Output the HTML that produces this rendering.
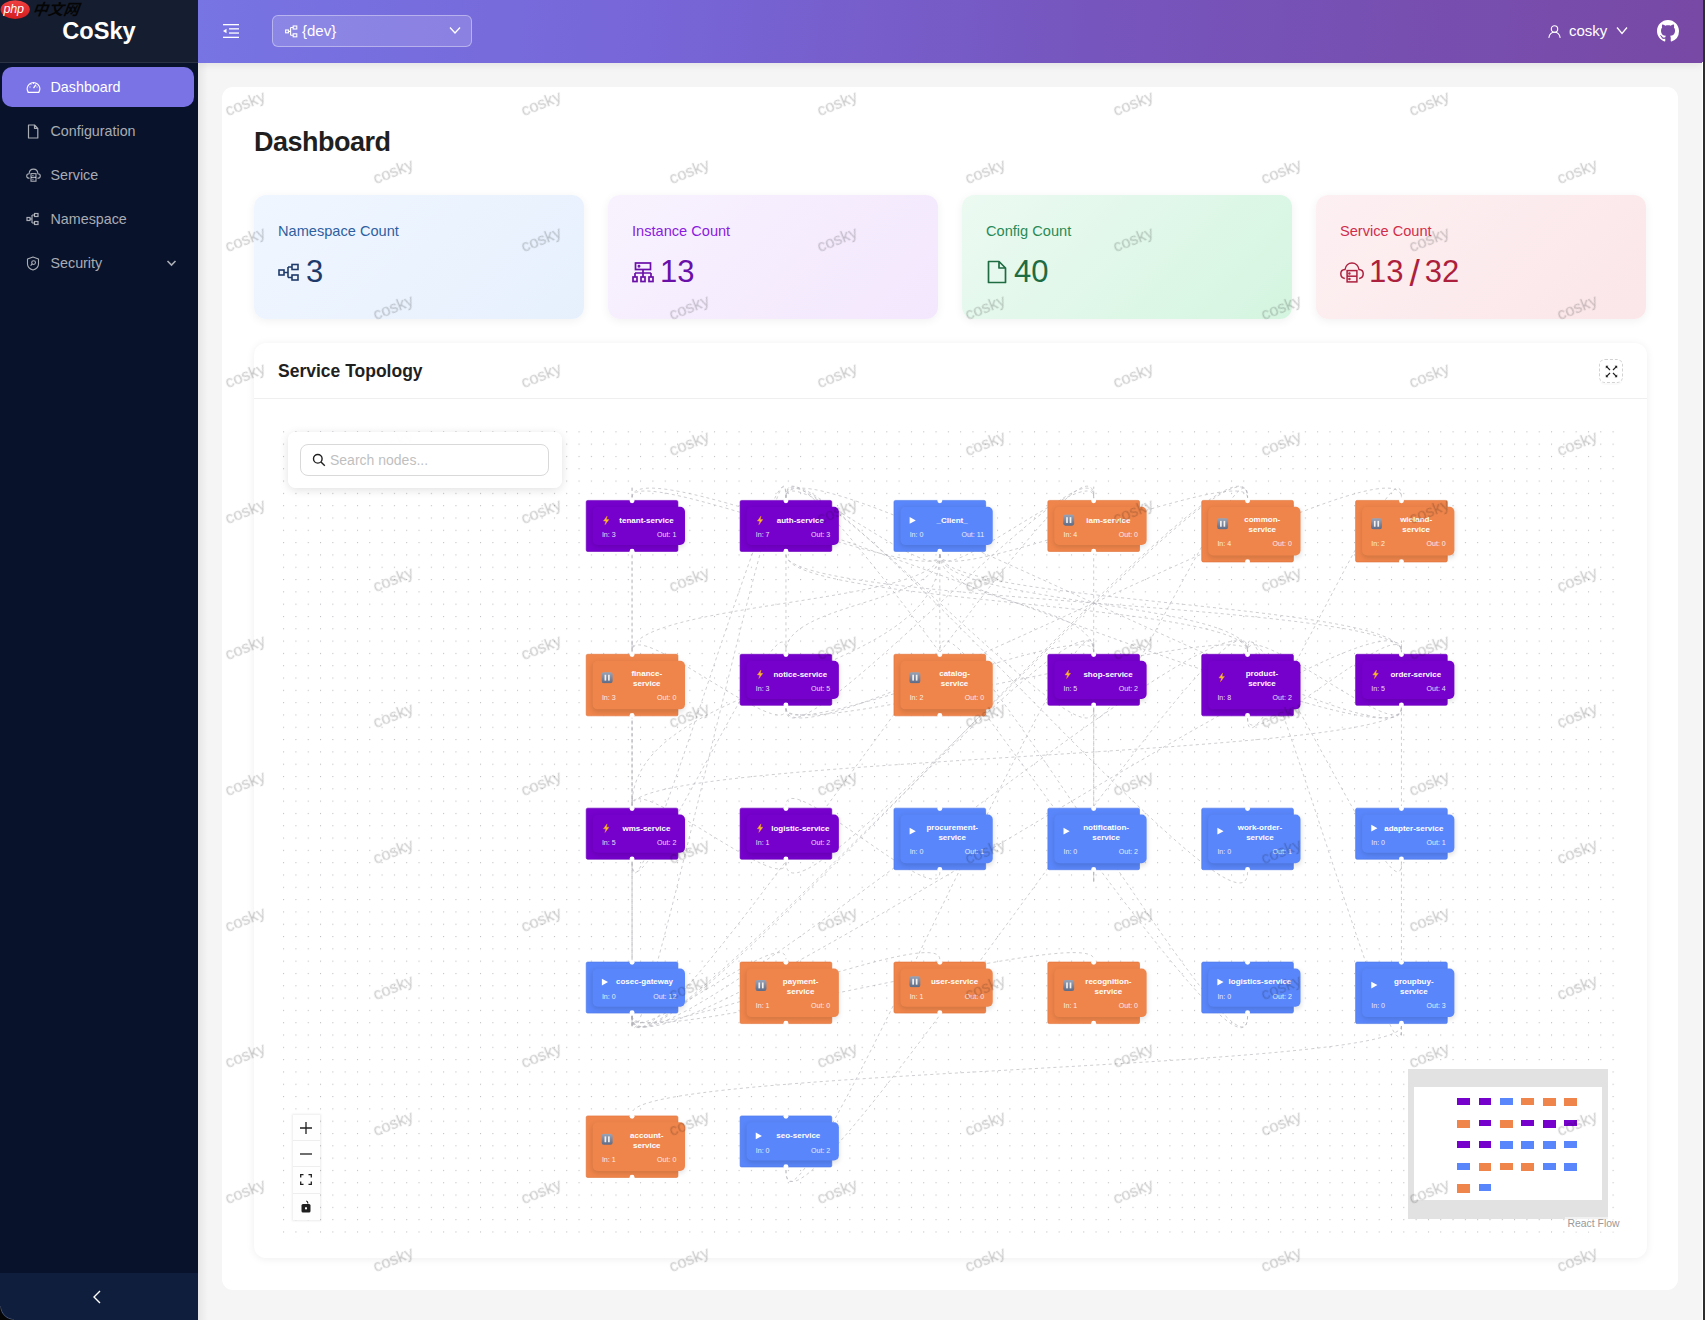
<!DOCTYPE html>
<html><head><meta charset="utf-8"><title>CoSky Dashboard</title>
<style>
*{box-sizing:border-box;margin:0;padding:0}
html,body{width:1705px;height:1320px;overflow:hidden;background:#f5f5f5;font-family:"Liberation Sans",Arial,sans-serif;color:#1f1f1f}
#sider{position:absolute;left:0;top:0;width:198px;height:1320px;background:#08122a;z-index:3}
#logo{position:absolute;left:0;top:0;width:198px;height:63px;background:#151e31;border-bottom:1px solid #2a3345}
#logo .t{position:absolute;left:0;width:198px;top:17.5px;text-align:center;color:#fff;font-weight:700;font-size:23.6px;line-height:26px}
#php{position:absolute;left:0px;top:0px;width:82px;height:20px}
.menu{position:absolute;left:2px;width:192px;height:40px;border-radius:10px;color:rgba(255,255,255,0.66);font-size:14.3px}
.menu.on{background:#7a73e6;color:#fff}
.menu .tx{position:absolute;left:48.5px;top:11px;line-height:18px}
.menu svg{position:absolute;left:24px;top:13px}
#collapse{position:absolute;left:0;top:1273px;width:198px;height:47px;background:#101e3e}
#header{position:absolute;left:198px;top:0;width:1505px;height:63px;background:linear-gradient(95deg,#7774e3 0%,#7766d8 30%,#7655bd 60%,#7849a5 100%);z-index:2;box-shadow:0 2px 8px rgba(0,0,0,0.08)}
#rstrip{position:absolute;left:1703px;top:0;width:2px;height:1320px;background:#2e2e2e;z-index:5}
#shadowL{position:absolute;left:198px;top:62px;width:10px;height:1258px;background:linear-gradient(90deg,rgba(0,0,0,0.06),rgba(0,0,0,0));z-index:1}
#main{position:absolute;left:222px;top:87px;width:1456px;height:1203px;background:#fff;border-radius:11px;overflow:hidden}
h1{position:absolute;left:32px;top:39px;font-size:27px;line-height:32px;font-weight:700;color:#1f1f1f;letter-spacing:-0.5px}
.card{position:absolute;top:108px;width:330px;height:124px;border-radius:12px;box-shadow:0 2px 10px rgba(0,0,0,0.06)}
.card .ti{position:absolute;left:24px;top:26px;font-size:14.6px;line-height:20px}
.card .val{position:absolute;left:24px;top:57px;font-size:31px;line-height:40px;height:40px;display:flex;align-items:center}
.card .val svg{margin-right:6px;flex:none}
#topo{position:absolute;left:32px;top:256px;width:1393px;height:915px;border-radius:12px;background:#fff;box-shadow:0 1px 8px rgba(0,0,0,0.07)}
#topo .hd{position:absolute;left:0;top:0;width:100%;height:56px;border-bottom:1px solid #efefef}
#topo .hd .t{position:absolute;left:24px;top:17px;font-size:17.5px;font-weight:700;line-height:22px}
#fsbtn{position:absolute;left:1345px;top:16px;width:24px;height:24px;border:1px dashed #d2d2d2;border-radius:6px;box-shadow:0 2px 0 rgba(0,0,0,0.02)}
#pane{position:absolute;left:24px;top:80px;width:1345px;height:810px;overflow:hidden}
#dots{position:absolute;left:0;top:0}
#vp{position:absolute;left:0;top:0;transform-origin:0 0;transform:translate(307.9px,77.1px) scale(0.6155)}
.nd{position:absolute;width:150px;padding:10px;border:1px solid;border-radius:3px;color:#fff;text-align:center}
.nd .in{position:relative;width:150px;border-radius:8px;padding:13.7px 12px 10.8px 12px;box-shadow:0 3px 8px rgba(0,0,0,0.13)}
.nd.two .in{padding:12.5px 12px 12px 12px}
.nd .r1{display:flex;align-items:center;height:16px}
.nd.two .r1{height:32px}
.nd .ic{flex:none;display:block;position:relative}
.nd.P .ic{left:2.4px}
.nd.O .ic{left:2px}
.nd.two .ic{top:-1.5px}
.nd .nm{flex:1;min-width:0;font-size:13px;font-weight:700;line-height:16px;white-space:nowrap;text-align:center}
.nd.P .nm{padding-left:8.8px}
.nd.O .nm{padding-left:6.8px}
.nd.B .nm{padding-left:2.2px}
.nd .r2{display:flex;justify-content:space-between;font-size:11.5px;line-height:14px;margin-top:8px;opacity:0.85;padding:0 2px 0 3px}
.nd .hdl{position:absolute;left:69.5px;width:8px;height:8px;border-radius:50%;background:#fff;z-index:2}
#edges{position:absolute;left:0;top:0;overflow:visible}
#search{position:absolute;z-index:12;left:10px;top:9px;width:274px;height:56px;background:rgba(255,255,255,0.96);border-radius:8px;box-shadow:0 2px 10px rgba(0,0,0,0.12)}
#search .inp{position:absolute;left:12px;top:12px;width:249px;height:32px;border:1px solid #d9d9d9;border-radius:8px;background:#fff}
#search .ph{position:absolute;left:29px;top:6px;font-size:14px;line-height:18px;color:#bfbfbf}
#search svg{position:absolute;left:11px;top:8px}
#ctrl{position:absolute;left:15px;top:692px;width:26.5px;background:#fefefe;box-shadow:0 0 2px 1px rgba(0,0,0,0.08)}
#ctrl div{height:26.2px;border-bottom:1px solid #eee;display:flex;align-items:center;justify-content:center}
#minimap{position:absolute;left:1130px;top:646px;width:200px;height:150px;background:#e2e2e2}
#mmv{position:absolute;left:6px;top:18.4px;width:188px;height:112.6px;background:#fff}
#attr{position:absolute;left:1286.5px;top:794px;height:15px;padding:0 3px;background:rgba(255,255,255,0.5);font-size:10.4px;line-height:14px;color:#999}
.wm{position:absolute;width:80px;height:20px;line-height:20px;text-align:center;font-size:16.5px;color:rgba(0,0,0,0.09);text-shadow:0 0 1px rgba(0,0,0,0.14);transform:rotate(-22deg);white-space:nowrap;pointer-events:none;will-change:transform}
#wml{position:absolute;left:0;top:0;width:1456px;height:1202px;z-index:10;pointer-events:none}
</style></head>
<body>
<div id="sider">
  <div id="logo"><div class="t">CoSky</div>
    <svg id="php" viewBox="0 0 82 20"><defs><linearGradient id="phpg" x1="0" y1="0" x2="0" y2="1"><stop offset="0" stop-color="#f0403f"/><stop offset="1" stop-color="#d41d20"/></linearGradient></defs><ellipse cx="15.2" cy="9.6" rx="14.6" ry="9.3" fill="url(#phpg)"/><text x="3.6" y="13.2" font-family="Liberation Sans" font-style="italic" font-size="12.5" fill="#fff" letter-spacing="-0.3">php</text><text x="32.5" y="14.8" font-family="'Liberation Sans','Noto Sans CJK SC',sans-serif" font-style="italic" font-weight="700" font-size="15.5" fill="#050505" transform="skewX(-8)" transform-origin="40 10">中文网</text></svg>
  </div>
  <div class="menu on" style="top:67px">
    <svg width="15" height="14" viewBox="0 0 15 14" fill="none" stroke="#fff" stroke-width="1.3"><path d="M2.2 12.3 A6.3 6.3 0 1 1 12.8 12.3 Z" stroke-linejoin="round"/><path d="M7.5 8.2 L10 4.6"/><path d="M3.5 7 h1 M7.5 3 v1 M11.5 7 h-1 M4.7 4.2 l0.7 0.7" stroke-width="1"/></svg>
    <span class="tx">Dashboard</span></div>
  <div class="menu" style="top:111px">
    <svg width="14" height="15" viewBox="0 0 14 15" fill="none" stroke="currentColor" stroke-width="1.2"><path d="M2.5 1 H8.5 L11.8 4.3 V14 H2.5 Z M8.5 1 V4.3 H11.8" stroke-linejoin="round"/></svg>
    <span class="tx">Configuration</span></div>
  <div class="menu" style="top:155px">
    <svg width="15" height="14" viewBox="0 0 15 14" fill="none" stroke="currentColor" stroke-width="1.1"><path d="M3.6 10.2 C1.8 10.2 0.7 9.2 0.7 7.9 C0.7 6.6 1.8 5.7 3.1 5.7 C3.3 3.1 5.2 1.1 7.5 1.1 C9.8 1.1 11.7 3.1 11.9 5.7 C13.2 5.7 14.3 6.6 14.3 7.9 C14.3 9.2 13.2 10.2 11.4 10.2"/><rect x="5" y="5.6" width="5" height="7.6"/><path d="M5 9.4 H10 M6.3 7.5 h1.2 M6.3 11.3 h1.2"/></svg>
    <span class="tx">Service</span></div>
  <div class="menu" style="top:199px">
    <svg width="14" height="14" viewBox="0 0 14 14" fill="none" stroke="currentColor" stroke-width="1.2"><rect x="1" y="5.5" width="3" height="3"/><rect x="8.5" y="1.5" width="3.5" height="3"/><rect x="8.5" y="9.5" width="3.5" height="3"/><path d="M4 7 H6 M6 3 V11 M6 3 H8.5 M6 11 H8.5"/></svg>
    <span class="tx">Namespace</span></div>
  <div class="menu" style="top:243px">
    <svg width="14" height="15" viewBox="0 0 14 15" fill="none" stroke="currentColor" stroke-width="1.1"><path d="M7 1 L12.5 3 V8 C12.5 11 10 13 7 14 C4 13 1.5 11 1.5 8 V3 Z" stroke-linejoin="round"/><circle cx="7.6" cy="6.6" r="1.9"/><path d="M6.2 8 L4.6 9.6"/></svg>
    <span class="tx">Security</span>
    <svg style="left:164px;top:15px" width="11" height="10" viewBox="0 0 11 10" fill="none" stroke="currentColor" stroke-width="1.6"><path d="M1.5 3 L5.5 7 L9.5 3"/></svg></div>
  <div id="collapse"><svg style="position:absolute;left:92px;top:17px" width="10" height="14" viewBox="0 0 10 14" fill="none" stroke="#fff" stroke-width="1.4"><path d="M8 1 L2 7 L8 13"/></svg></div>
</div>
<div id="header">
  <svg style="position:absolute;left:25px;top:24px" width="16" height="14" viewBox="0 0 16 14" fill="#fff"><rect x="0" y="0" width="16" height="1.3"/><rect x="6" y="4.2" width="10" height="1.3"/><rect x="6" y="8.4" width="10" height="1.3"/><rect x="0" y="12.7" width="16" height="1.3"/><path d="M0 7 L3.5 4.8 V9.2 Z"/></svg>
  <div style="position:absolute;left:74px;top:15px;width:200px;height:32px;border-radius:6px;background:rgba(255,255,255,0.15);border:1px solid rgba(255,255,255,0.38)">
    <svg style="position:absolute;left:12px;top:9px" width="13" height="13" viewBox="0 0 13 13" fill="none" stroke="#fff" stroke-width="1.1"><rect x="0.6" y="5" width="2.8" height="2.8"/><rect x="8.2" y="1" width="3.6" height="3"/><rect x="8.2" y="8.8" width="3.6" height="3"/><path d="M3.4 6.4 H5.6 M5.6 2.5 V10.3 M5.6 2.5 H8.2 M5.6 10.3 H8.2"/></svg>
    <span style="position:absolute;left:29px;top:6px;font-size:15px;line-height:18px;color:#fff">{dev}</span>
    <svg style="position:absolute;left:176px;top:10px" width="12" height="9" viewBox="0 0 12 9" fill="none" stroke="#fff" stroke-width="1.3"><path d="M1 1.5 L6 7 L11 1.5"/></svg>
  </div>
  <svg style="position:absolute;left:1349.5px;top:24.5px" width="13" height="13" viewBox="0 0 13 13" fill="none" stroke="#fff" stroke-width="1.1"><circle cx="6.5" cy="4" r="3.2"/><path d="M0.8 12.8 C1.5 9 4 7.3 6.5 7.3 C9 7.3 11.5 9 12.2 12.8"/></svg>
  <span style="position:absolute;left:1371px;top:22px;font-size:15px;line-height:18px;color:#fff">cosky</span>
  <svg style="position:absolute;left:1418px;top:26px" width="12" height="9" viewBox="0 0 12 9" fill="none" stroke="#fff" stroke-width="1.3"><path d="M1 1.5 L6 7.5 L11 1.5"/></svg>
  <svg style="position:absolute;left:1459px;top:20px" width="22" height="22" viewBox="0 0 16 16" fill="#fff"><path d="M8 0C3.58 0 0 3.58 0 8c0 3.54 2.29 6.53 5.47 7.59.4.07.55-.17.55-.38 0-.19-.01-.82-.01-1.49-2.01.37-2.53-.49-2.69-.94-.09-.23-.48-.94-.82-1.13-.28-.15-.68-.52-.01-.53.63-.01 1.08.58 1.23.82.72 1.21 1.87.87 2.33.66.07-.52.28-.87.51-1.07-1.78-.2-3.64-.89-3.64-3.95 0-.87.31-1.59.82-2.15-.08-.2-.36-1.02.08-2.12 0 0 .67-.21 2.2.82.64-.18 1.32-.27 2-.27.68 0 1.36.09 2 .27 1.53-1.04 2.2-.82 2.2-.82.44 1.1.16 1.92.08 2.12.51.56.82 1.27.82 2.15 0 3.07-1.87 3.75-3.65 3.95.29.25.54.73.54 1.48 0 1.07-.01 1.93-.01 2.2 0 .21.15.46.55.38A8.013 8.013 0 0016 8c0-4.42-3.58-8-8-8z"/></svg>
</div>
<div id="shadowL"></div>
<div id="rstrip"></div><div style="position:absolute;left:1702px;top:62px;width:1px;height:1258px;background:#fff;z-index:5"></div>
<div style="position:absolute;left:0;top:1306px;width:14px;height:14px;z-index:6;background:radial-gradient(circle at 14px 0px, rgba(0,0,0,0) 12.6px, rgba(70,85,120,0.9) 13.2px, #050505 14.2px)"></div>
<div id="main">
  <h1>Dashboard</h1>
  <div class="card" style="left:32px;background:linear-gradient(135deg,#f0f6ff,#e6f0fd)"><div class="ti" style="color:#2f5f9e">Namespace Count</div><div class="val" style="color:#1e3a6b">
    <svg width="22" height="20" viewBox="0 0 22 20" fill="none" stroke="currentColor" stroke-width="1.6"><rect x="1" y="8" width="5" height="5"/><rect x="14" y="2.5" width="6" height="5"/><rect x="14" y="13" width="6" height="5"/><path d="M6 10.5 H10 M10 5 V15.5 M10 5 H14 M10 15.5 H14"/></svg>3</div></div>
  <div class="card" style="left:386px;background:linear-gradient(135deg,#f8f2fe,#f3e7fd)"><div class="ti" style="color:#8a1be0">Instance Count</div><div class="val" style="color:#6a0fa8">
    <svg width="22" height="21" viewBox="0 0 22 21" fill="none" stroke="currentColor" stroke-width="1.7"><rect x="3.5" y="1" width="15" height="6.5"/><circle cx="7" cy="4.2" r="0.6" fill="currentColor"/><path d="M11 7.5 V11 M3 11 H19 M3 11 V15 M11 11 V15 M19 11 V15"/><rect x="1" y="15" width="4" height="4.5"/><rect x="9" y="15" width="4" height="4.5"/><rect x="17" y="15" width="4" height="4.5"/></svg>13</div></div>
  <div class="card" style="left:740px;background:linear-gradient(135deg,#ecfaf2,#d4f5e0)"><div class="ti" style="color:#2a8a55">Config Count</div><div class="val" style="color:#1f6b42">
    <svg width="22" height="24" viewBox="0 0 22 24" fill="none" stroke="currentColor" stroke-width="1.7"><path d="M2.5 1.5 H13 L19.5 8 V22.5 H2.5 Z M13 1.5 V8 H19.5" stroke-linejoin="round"/></svg>40</div></div>
  <div class="card" style="left:1094px;background:linear-gradient(135deg,#fdf0f2,#fbe6e9)"><div class="ti" style="color:#d12d4a">Service Count</div><div class="val" style="color:#ac1f3d">
    <svg width="24" height="21" viewBox="0 0 24 21" fill="none" stroke="currentColor" stroke-width="1.5" style="margin-right:5px"><path d="M4.8 16.4 C2.2 16 0.8 14 0.8 11.8 C0.8 9.4 2.6 7.6 5 7.5 C5.6 3.8 8.5 1.1 12 1.1 C15.5 1.1 18.4 3.8 19 7.5 C21.4 7.6 23.2 9.4 23.2 11.8 C23.2 14 21.8 16 19.2 16.4"/><rect x="7.1" y="8.6" width="9.8" height="11.3" fill="#fbeaee"/><path d="M7.1 14.2 H16.9"/><circle cx="9.4" cy="11.4" r="0.5" fill="currentColor"/><circle cx="9.4" cy="17" r="0.5" fill="currentColor"/></svg>13<span style="margin:0 5px 0 6px;font-size:37px;line-height:40px;position:relative;top:2px">/</span>32</div></div>
  <div id="topo">
    <div class="hd"><div class="t">Service Topology</div>
      <div id="fsbtn"><svg style="position:absolute;left:4.5px;top:4.5px" width="13" height="13" viewBox="0 0 13 13" fill="#1f1f1f" stroke="#1f1f1f" stroke-width="1.3"><path d="M1.6 1.6 L5 5 M11.4 1.6 L8 5 M1.6 11.4 L5 8 M11.4 11.4 L8 8" stroke-width="1.2"/><path d="M0.8 0.8 H3.4 L0.8 3.4 Z M12.2 0.8 H9.6 L12.2 3.4 Z M0.8 12.2 H3.4 L0.8 9.6 Z M12.2 12.2 H9.6 L12.2 9.6 Z" stroke="none"/></svg></div>
    </div>
    <div id="pane">
      <svg id="dots" width="1345" height="810"><defs><pattern id="dp" x="5.1" y="8.3" width="12.31" height="12.31" patternUnits="userSpaceOnUse"><circle cx="0.5" cy="0.5" r="0.6" fill="#bdbdc2"/></pattern></defs><rect width="1345" height="810" fill="url(#dp)"/></svg>
      <svg id="edges" width="1" height="1" style="position:absolute;left:0;top:0;overflow:visible"><g transform="translate(307.9,77.1) scale(0.6155)" fill="none" stroke="#b1b1b7" stroke-width="1" stroke-dasharray="5"><path d="M75.0,838.5 C75.0,1019.9 75.0,-185.4 75.0,-4.0"/><path d="M75.0,838.5 C75.0,1019.9 325.0,-185.4 325.0,-4.0"/><path d="M75.0,838.5 C75.0,1019.9 825.0,-185.4 825.0,-4.0"/><path d="M75.0,838.5 C75.0,1019.9 1075.0,-185.4 1075.0,-4.0"/><path d="M75.0,838.5 C75.0,990.6 825.0,93.9 825.0,246.0"/><path d="M75.0,838.5 C75.0,990.6 1075.0,93.9 1075.0,246.0"/><path d="M75.0,838.5 C75.0,990.6 1325.0,93.9 1325.0,246.0"/><path d="M75.0,838.5 C75.0,954.2 75.0,380.3 75.0,496.0"/><path d="M75.0,838.5 C75.0,898.6 325.0,685.9 325.0,746.0"/><path d="M75.0,838.5 C75.0,898.6 575.0,685.9 575.0,746.0"/><path d="M75.0,838.5 C75.0,898.6 825.0,685.9 825.0,746.0"/><path d="M75.0,838.5 C75.0,990.6 75.0,93.9 75.0,246.0"/><path d="M575.0,88.5 C575.0,148.6 75.0,-64.1 75.0,-4.0"/><path d="M575.0,88.5 C575.0,148.6 325.0,-64.1 325.0,-4.0"/><path d="M575.0,88.5 C575.0,148.6 825.0,-64.1 825.0,-4.0"/><path d="M575.0,88.5 C575.0,148.6 1075.0,-64.1 1075.0,-4.0"/><path d="M575.0,88.5 C575.0,167.2 75.0,167.2 75.0,246.0"/><path d="M575.0,88.5 C575.0,167.2 325.0,167.2 325.0,246.0"/><path d="M575.0,88.5 C575.0,167.2 575.0,167.2 575.0,246.0"/><path d="M575.0,88.5 C575.0,167.2 825.0,167.2 825.0,246.0"/><path d="M575.0,88.5 C575.0,167.2 1075.0,167.2 1075.0,246.0"/><path d="M575.0,88.5 C575.0,167.2 1325.0,167.2 1325.0,246.0"/><path d="M575.0,88.5 C575.0,292.2 75.0,292.2 75.0,496.0"/><path d="M325.0,88.5 C325.0,167.2 325.0,167.2 325.0,246.0"/><path d="M325.0,88.5 C325.0,167.2 1075.0,167.2 1075.0,246.0"/><path d="M325.0,88.5 C325.0,167.2 1325.0,167.2 1325.0,246.0"/><path d="M75.0,88.5 C75.0,292.2 75.0,292.2 75.0,496.0"/><path d="M325.0,338.5 C325.0,454.2 825.0,-119.7 825.0,-4.0"/><path d="M325.0,338.5 C325.0,398.6 75.0,185.9 75.0,246.0"/><path d="M325.0,338.5 C325.0,398.6 1075.0,185.9 1075.0,246.0"/><path d="M325.0,338.5 C325.0,454.2 1325.0,-119.7 1325.0,-4.0"/><path d="M325.0,338.5 C325.0,398.6 825.0,185.9 825.0,246.0"/><path d="M825.0,338.5 C825.0,454.2 325.0,-119.7 325.0,-4.0"/><path d="M825.0,338.5 C825.0,454.2 1075.0,-119.7 1075.0,-4.0"/><path d="M1075.0,354.5 C1075.0,472.8 1325.0,-122.3 1325.0,-4.0"/><path d="M1075.0,354.5 C1075.0,419.6 1325.0,180.9 1325.0,246.0"/><path d="M1325.0,338.5 C1325.0,398.6 1075.0,185.9 1075.0,246.0"/><path d="M1325.0,338.5 C1325.0,417.2 75.0,417.2 75.0,496.0"/><path d="M1325.0,338.5 C1325.0,454.2 325.0,-119.7 325.0,-4.0"/><path d="M1325.0,338.5 C1325.0,454.2 75.0,-119.7 75.0,-4.0"/><path d="M75.0,588.5 C75.0,704.2 325.0,130.3 325.0,246.0"/><path d="M75.0,588.5 C75.0,740.6 325.0,-156.1 325.0,-4.0"/><path d="M325.0,588.5 C325.0,648.6 75.0,435.9 75.0,496.0"/><path d="M325.0,588.5 C325.0,740.6 1075.0,-156.1 1075.0,-4.0"/><path d="M575.0,604.5 C575.0,669.6 325.0,430.9 325.0,496.0"/><path d="M825.0,604.5 C825.0,758.7 825.0,-158.2 825.0,-4.0"/><path d="M825.0,604.5 C825.0,722.8 825.0,127.7 825.0,246.0"/><path d="M1075.0,604.5 C1075.0,758.7 325.0,-158.2 325.0,-4.0"/><path d="M1325.0,588.5 C1325.0,704.2 1075.0,130.3 1075.0,246.0"/><path d="M1075.0,838.5 C1075.0,990.6 575.0,93.9 575.0,246.0"/><path d="M1075.0,838.5 C1075.0,1019.9 325.0,-185.4 325.0,-4.0"/><path d="M1325.0,854.5 C1325.0,925.2 75.0,925.2 75.0,996.0"/><path d="M1325.0,854.5 C1325.0,1008.7 1325.0,91.8 1325.0,246.0"/><path d="M1325.0,854.5 C1325.0,1008.7 1075.0,91.8 1075.0,246.0"/><path d="M325.0,1088.5 C325.0,1269.9 1075.0,64.6 1075.0,246.0"/><path d="M325.0,1088.5 C325.0,1269.9 825.0,64.6 825.0,246.0"/></g></svg>
      <div id="vp">
<div class="nd P" style="left:0px;top:0px;background:#7600cc;border-color:#6a00b8"><div class="hdl" style="top:-4px"></div><div class="hdl" style="bottom:-4px"></div><div class="in" style="background:#7600cc"><div class="r1"><svg class="ic" width="16" height="16" viewBox="0 0 16 16"><path d="M9.5 1 L3.5 9 H7.5 L6 15 L12.5 6.5 H8.5 Z" fill="#fbc02d" stroke="#e8912a" stroke-width="0.8" stroke-linejoin="round"/></svg><div class="nm">tenant-service</div></div><div class="r2"><span>In: 3</span><span>Out: 1</span></div></div></div>
<div class="nd P" style="left:250px;top:0px;background:#7600cc;border-color:#6a00b8"><div class="hdl" style="top:-4px"></div><div class="hdl" style="bottom:-4px"></div><div class="in" style="background:#7600cc"><div class="r1"><svg class="ic" width="16" height="16" viewBox="0 0 16 16"><path d="M9.5 1 L3.5 9 H7.5 L6 15 L12.5 6.5 H8.5 Z" fill="#fbc02d" stroke="#e8912a" stroke-width="0.8" stroke-linejoin="round"/></svg><div class="nm">auth-service</div></div><div class="r2"><span>In: 7</span><span>Out: 3</span></div></div></div>
<div class="nd B" style="left:500px;top:0px;background:#5986fa;border-color:#4f79e6"><div class="hdl" style="top:-4px"></div><div class="hdl" style="bottom:-4px"></div><div class="in" style="background:#5986fa"><div class="r1"><svg class="ic" width="16" height="16" viewBox="0 0 16 16"><path d="M3 2.5 L13 8 L3 13.5 Z" fill="#fff"/></svg><div class="nm">_Client_</div></div><div class="r2"><span>In: 0</span><span>Out: 11</span></div></div></div>
<div class="nd O" style="left:750px;top:0px;background:#ef854b;border-color:#e0703a"><div class="hdl" style="top:-4px"></div><div class="hdl" style="bottom:-4px"></div><div class="in" style="background:#ef854b"><div class="r1"><svg class="ic" width="19" height="19" viewBox="0 0 18 18"><defs><linearGradient id="pg" x1="0" y1="0" x2="0" y2="1"><stop offset="0" stop-color="#9aa4b8"/><stop offset="1" stop-color="#5f6b85"/></linearGradient></defs><rect x="0.5" y="0.5" width="17" height="17" rx="3.5" fill="url(#pg)"/><rect x="5" y="4.5" width="2.6" height="9" fill="#f4f0ec"/><rect x="10.4" y="4.5" width="2.6" height="9" fill="#f4f0ec"/></svg><div class="nm">iam-service</div></div><div class="r2"><span>In: 4</span><span>Out: 0</span></div></div></div>
<div class="nd O two" style="left:1000px;top:0px;background:#ef854b;border-color:#e0703a"><div class="hdl" style="top:-4px"></div><div class="hdl" style="bottom:-4px"></div><div class="in" style="background:#ef854b"><div class="r1"><svg class="ic" width="19" height="19" viewBox="0 0 18 18"><defs><linearGradient id="pg" x1="0" y1="0" x2="0" y2="1"><stop offset="0" stop-color="#9aa4b8"/><stop offset="1" stop-color="#5f6b85"/></linearGradient></defs><rect x="0.5" y="0.5" width="17" height="17" rx="3.5" fill="url(#pg)"/><rect x="5" y="4.5" width="2.6" height="9" fill="#f4f0ec"/><rect x="10.4" y="4.5" width="2.6" height="9" fill="#f4f0ec"/></svg><div class="nm">common-<br>service</div></div><div class="r2"><span>In: 4</span><span>Out: 0</span></div></div></div>
<div class="nd O two" style="left:1250px;top:0px;background:#ef854b;border-color:#e0703a"><div class="hdl" style="top:-4px"></div><div class="hdl" style="bottom:-4px"></div><div class="in" style="background:#ef854b"><div class="r1"><svg class="ic" width="19" height="19" viewBox="0 0 18 18"><defs><linearGradient id="pg" x1="0" y1="0" x2="0" y2="1"><stop offset="0" stop-color="#9aa4b8"/><stop offset="1" stop-color="#5f6b85"/></linearGradient></defs><rect x="0.5" y="0.5" width="17" height="17" rx="3.5" fill="url(#pg)"/><rect x="5" y="4.5" width="2.6" height="9" fill="#f4f0ec"/><rect x="10.4" y="4.5" width="2.6" height="9" fill="#f4f0ec"/></svg><div class="nm">wieland-<br>service</div></div><div class="r2"><span>In: 2</span><span>Out: 0</span></div></div></div>
<div class="nd O two" style="left:0px;top:250px;background:#ef854b;border-color:#e0703a"><div class="hdl" style="top:-4px"></div><div class="hdl" style="bottom:-4px"></div><div class="in" style="background:#ef854b"><div class="r1"><svg class="ic" width="19" height="19" viewBox="0 0 18 18"><defs><linearGradient id="pg" x1="0" y1="0" x2="0" y2="1"><stop offset="0" stop-color="#9aa4b8"/><stop offset="1" stop-color="#5f6b85"/></linearGradient></defs><rect x="0.5" y="0.5" width="17" height="17" rx="3.5" fill="url(#pg)"/><rect x="5" y="4.5" width="2.6" height="9" fill="#f4f0ec"/><rect x="10.4" y="4.5" width="2.6" height="9" fill="#f4f0ec"/></svg><div class="nm">finance-<br>service</div></div><div class="r2"><span>In: 3</span><span>Out: 0</span></div></div></div>
<div class="nd P" style="left:250px;top:250px;background:#7600cc;border-color:#6a00b8"><div class="hdl" style="top:-4px"></div><div class="hdl" style="bottom:-4px"></div><div class="in" style="background:#7600cc"><div class="r1"><svg class="ic" width="16" height="16" viewBox="0 0 16 16"><path d="M9.5 1 L3.5 9 H7.5 L6 15 L12.5 6.5 H8.5 Z" fill="#fbc02d" stroke="#e8912a" stroke-width="0.8" stroke-linejoin="round"/></svg><div class="nm">notice-service</div></div><div class="r2"><span>In: 3</span><span>Out: 5</span></div></div></div>
<div class="nd O two" style="left:500px;top:250px;background:#ef854b;border-color:#e0703a"><div class="hdl" style="top:-4px"></div><div class="hdl" style="bottom:-4px"></div><div class="in" style="background:#ef854b"><div class="r1"><svg class="ic" width="19" height="19" viewBox="0 0 18 18"><defs><linearGradient id="pg" x1="0" y1="0" x2="0" y2="1"><stop offset="0" stop-color="#9aa4b8"/><stop offset="1" stop-color="#5f6b85"/></linearGradient></defs><rect x="0.5" y="0.5" width="17" height="17" rx="3.5" fill="url(#pg)"/><rect x="5" y="4.5" width="2.6" height="9" fill="#f4f0ec"/><rect x="10.4" y="4.5" width="2.6" height="9" fill="#f4f0ec"/></svg><div class="nm">catalog-<br>service</div></div><div class="r2"><span>In: 2</span><span>Out: 0</span></div></div></div>
<div class="nd P" style="left:750px;top:250px;background:#7600cc;border-color:#6a00b8"><div class="hdl" style="top:-4px"></div><div class="hdl" style="bottom:-4px"></div><div class="in" style="background:#7600cc"><div class="r1"><svg class="ic" width="16" height="16" viewBox="0 0 16 16"><path d="M9.5 1 L3.5 9 H7.5 L6 15 L12.5 6.5 H8.5 Z" fill="#fbc02d" stroke="#e8912a" stroke-width="0.8" stroke-linejoin="round"/></svg><div class="nm">shop-service</div></div><div class="r2"><span>In: 5</span><span>Out: 2</span></div></div></div>
<div class="nd P two" style="left:1000px;top:250px;background:#7600cc;border-color:#6a00b8"><div class="hdl" style="top:-4px"></div><div class="hdl" style="bottom:-4px"></div><div class="in" style="background:#7600cc"><div class="r1"><svg class="ic" width="16" height="16" viewBox="0 0 16 16"><path d="M9.5 1 L3.5 9 H7.5 L6 15 L12.5 6.5 H8.5 Z" fill="#fbc02d" stroke="#e8912a" stroke-width="0.8" stroke-linejoin="round"/></svg><div class="nm">product-<br>service</div></div><div class="r2"><span>In: 8</span><span>Out: 2</span></div></div></div>
<div class="nd P" style="left:1250px;top:250px;background:#7600cc;border-color:#6a00b8"><div class="hdl" style="top:-4px"></div><div class="hdl" style="bottom:-4px"></div><div class="in" style="background:#7600cc"><div class="r1"><svg class="ic" width="16" height="16" viewBox="0 0 16 16"><path d="M9.5 1 L3.5 9 H7.5 L6 15 L12.5 6.5 H8.5 Z" fill="#fbc02d" stroke="#e8912a" stroke-width="0.8" stroke-linejoin="round"/></svg><div class="nm">order-service</div></div><div class="r2"><span>In: 5</span><span>Out: 4</span></div></div></div>
<div class="nd P" style="left:0px;top:500px;background:#7600cc;border-color:#6a00b8"><div class="hdl" style="top:-4px"></div><div class="hdl" style="bottom:-4px"></div><div class="in" style="background:#7600cc"><div class="r1"><svg class="ic" width="16" height="16" viewBox="0 0 16 16"><path d="M9.5 1 L3.5 9 H7.5 L6 15 L12.5 6.5 H8.5 Z" fill="#fbc02d" stroke="#e8912a" stroke-width="0.8" stroke-linejoin="round"/></svg><div class="nm">wms-service</div></div><div class="r2"><span>In: 5</span><span>Out: 2</span></div></div></div>
<div class="nd P" style="left:250px;top:500px;background:#7600cc;border-color:#6a00b8"><div class="hdl" style="top:-4px"></div><div class="hdl" style="bottom:-4px"></div><div class="in" style="background:#7600cc"><div class="r1"><svg class="ic" width="16" height="16" viewBox="0 0 16 16"><path d="M9.5 1 L3.5 9 H7.5 L6 15 L12.5 6.5 H8.5 Z" fill="#fbc02d" stroke="#e8912a" stroke-width="0.8" stroke-linejoin="round"/></svg><div class="nm">logistic-service</div></div><div class="r2"><span>In: 1</span><span>Out: 2</span></div></div></div>
<div class="nd B two" style="left:500px;top:500px;background:#5986fa;border-color:#4f79e6"><div class="hdl" style="top:-4px"></div><div class="hdl" style="bottom:-4px"></div><div class="in" style="background:#5986fa"><div class="r1"><svg class="ic" width="16" height="16" viewBox="0 0 16 16"><path d="M3 2.5 L13 8 L3 13.5 Z" fill="#fff"/></svg><div class="nm">procurement-<br>service</div></div><div class="r2"><span>In: 0</span><span>Out: 1</span></div></div></div>
<div class="nd B two" style="left:750px;top:500px;background:#5986fa;border-color:#4f79e6"><div class="hdl" style="top:-4px"></div><div class="hdl" style="bottom:-4px"></div><div class="in" style="background:#5986fa"><div class="r1"><svg class="ic" width="16" height="16" viewBox="0 0 16 16"><path d="M3 2.5 L13 8 L3 13.5 Z" fill="#fff"/></svg><div class="nm">notification-<br>service</div></div><div class="r2"><span>In: 0</span><span>Out: 2</span></div></div></div>
<div class="nd B two" style="left:1000px;top:500px;background:#5986fa;border-color:#4f79e6"><div class="hdl" style="top:-4px"></div><div class="hdl" style="bottom:-4px"></div><div class="in" style="background:#5986fa"><div class="r1"><svg class="ic" width="16" height="16" viewBox="0 0 16 16"><path d="M3 2.5 L13 8 L3 13.5 Z" fill="#fff"/></svg><div class="nm">work-order-<br>service</div></div><div class="r2"><span>In: 0</span><span>Out: 1</span></div></div></div>
<div class="nd B" style="left:1250px;top:500px;background:#5986fa;border-color:#4f79e6"><div class="hdl" style="top:-4px"></div><div class="hdl" style="bottom:-4px"></div><div class="in" style="background:#5986fa"><div class="r1"><svg class="ic" width="16" height="16" viewBox="0 0 16 16"><path d="M3 2.5 L13 8 L3 13.5 Z" fill="#fff"/></svg><div class="nm">adapter-service</div></div><div class="r2"><span>In: 0</span><span>Out: 1</span></div></div></div>
<div class="nd B" style="left:0px;top:750px;background:#5986fa;border-color:#4f79e6"><div class="hdl" style="top:-4px"></div><div class="hdl" style="bottom:-4px"></div><div class="in" style="background:#5986fa"><div class="r1"><svg class="ic" width="16" height="16" viewBox="0 0 16 16"><path d="M3 2.5 L13 8 L3 13.5 Z" fill="#fff"/></svg><div class="nm">cosec-gateway</div></div><div class="r2"><span>In: 0</span><span>Out: 12</span></div></div></div>
<div class="nd O two" style="left:250px;top:750px;background:#ef854b;border-color:#e0703a"><div class="hdl" style="top:-4px"></div><div class="hdl" style="bottom:-4px"></div><div class="in" style="background:#ef854b"><div class="r1"><svg class="ic" width="19" height="19" viewBox="0 0 18 18"><defs><linearGradient id="pg" x1="0" y1="0" x2="0" y2="1"><stop offset="0" stop-color="#9aa4b8"/><stop offset="1" stop-color="#5f6b85"/></linearGradient></defs><rect x="0.5" y="0.5" width="17" height="17" rx="3.5" fill="url(#pg)"/><rect x="5" y="4.5" width="2.6" height="9" fill="#f4f0ec"/><rect x="10.4" y="4.5" width="2.6" height="9" fill="#f4f0ec"/></svg><div class="nm">payment-<br>service</div></div><div class="r2"><span>In: 1</span><span>Out: 0</span></div></div></div>
<div class="nd O" style="left:500px;top:750px;background:#ef854b;border-color:#e0703a"><div class="hdl" style="top:-4px"></div><div class="hdl" style="bottom:-4px"></div><div class="in" style="background:#ef854b"><div class="r1"><svg class="ic" width="19" height="19" viewBox="0 0 18 18"><defs><linearGradient id="pg" x1="0" y1="0" x2="0" y2="1"><stop offset="0" stop-color="#9aa4b8"/><stop offset="1" stop-color="#5f6b85"/></linearGradient></defs><rect x="0.5" y="0.5" width="17" height="17" rx="3.5" fill="url(#pg)"/><rect x="5" y="4.5" width="2.6" height="9" fill="#f4f0ec"/><rect x="10.4" y="4.5" width="2.6" height="9" fill="#f4f0ec"/></svg><div class="nm">user-service</div></div><div class="r2"><span>In: 1</span><span>Out: 0</span></div></div></div>
<div class="nd O two" style="left:750px;top:750px;background:#ef854b;border-color:#e0703a"><div class="hdl" style="top:-4px"></div><div class="hdl" style="bottom:-4px"></div><div class="in" style="background:#ef854b"><div class="r1"><svg class="ic" width="19" height="19" viewBox="0 0 18 18"><defs><linearGradient id="pg" x1="0" y1="0" x2="0" y2="1"><stop offset="0" stop-color="#9aa4b8"/><stop offset="1" stop-color="#5f6b85"/></linearGradient></defs><rect x="0.5" y="0.5" width="17" height="17" rx="3.5" fill="url(#pg)"/><rect x="5" y="4.5" width="2.6" height="9" fill="#f4f0ec"/><rect x="10.4" y="4.5" width="2.6" height="9" fill="#f4f0ec"/></svg><div class="nm">recognition-<br>service</div></div><div class="r2"><span>In: 1</span><span>Out: 0</span></div></div></div>
<div class="nd B" style="left:1000px;top:750px;background:#5986fa;border-color:#4f79e6"><div class="hdl" style="top:-4px"></div><div class="hdl" style="bottom:-4px"></div><div class="in" style="background:#5986fa"><div class="r1"><svg class="ic" width="16" height="16" viewBox="0 0 16 16"><path d="M3 2.5 L13 8 L3 13.5 Z" fill="#fff"/></svg><div class="nm">logistics-service</div></div><div class="r2"><span>In: 0</span><span>Out: 2</span></div></div></div>
<div class="nd B two" style="left:1250px;top:750px;background:#5986fa;border-color:#4f79e6"><div class="hdl" style="top:-4px"></div><div class="hdl" style="bottom:-4px"></div><div class="in" style="background:#5986fa"><div class="r1"><svg class="ic" width="16" height="16" viewBox="0 0 16 16"><path d="M3 2.5 L13 8 L3 13.5 Z" fill="#fff"/></svg><div class="nm">groupbuy-<br>service</div></div><div class="r2"><span>In: 0</span><span>Out: 3</span></div></div></div>
<div class="nd O two" style="left:0px;top:1000px;background:#ef854b;border-color:#e0703a"><div class="hdl" style="top:-4px"></div><div class="hdl" style="bottom:-4px"></div><div class="in" style="background:#ef854b"><div class="r1"><svg class="ic" width="19" height="19" viewBox="0 0 18 18"><defs><linearGradient id="pg" x1="0" y1="0" x2="0" y2="1"><stop offset="0" stop-color="#9aa4b8"/><stop offset="1" stop-color="#5f6b85"/></linearGradient></defs><rect x="0.5" y="0.5" width="17" height="17" rx="3.5" fill="url(#pg)"/><rect x="5" y="4.5" width="2.6" height="9" fill="#f4f0ec"/><rect x="10.4" y="4.5" width="2.6" height="9" fill="#f4f0ec"/></svg><div class="nm">account-<br>service</div></div><div class="r2"><span>In: 1</span><span>Out: 0</span></div></div></div>
<div class="nd B" style="left:250px;top:1000px;background:#5986fa;border-color:#4f79e6"><div class="hdl" style="top:-4px"></div><div class="hdl" style="bottom:-4px"></div><div class="in" style="background:#5986fa"><div class="r1"><svg class="ic" width="16" height="16" viewBox="0 0 16 16"><path d="M3 2.5 L13 8 L3 13.5 Z" fill="#fff"/></svg><div class="nm">seo-service</div></div><div class="r2"><span>In: 0</span><span>Out: 2</span></div></div></div>
      </div>
      <div id="search"><div class="inp"><svg width="14" height="14" viewBox="0 0 14 14" fill="none" stroke="#1f1f1f" stroke-width="1.4"><circle cx="5.8" cy="5.8" r="4.3"/><path d="M9 9 L12.8 12.8"/></svg><span class="ph">Search nodes...</span></div></div>
      <div id="ctrl">
        <div><svg width="12" height="12" viewBox="0 0 12 12" stroke="#1f1f1f" stroke-width="1.3"><path d="M6 0 V12 M0 6 H12"/></svg></div>
        <div><svg width="12" height="2" viewBox="0 0 12 2" stroke="#1f1f1f" stroke-width="1.3"><path d="M0 1 H12"/></svg></div>
        <div><svg width="12" height="11" viewBox="0 0 12 11" fill="none" stroke="#1f1f1f" stroke-width="1.3"><path d="M0.7 3.5 V0.7 H3.5 M8.5 0.7 H11.3 V3.5 M11.3 7.5 V10.3 H8.5 M3.5 10.3 H0.7 V7.5"/></svg></div>
        <div style="border-bottom:none"><svg width="10" height="13" viewBox="0 0 10 13"><path d="M5.2 1 C6.5 1.3 6.9 2.5 6.9 3.5" fill="none" stroke="#1f1f1f" stroke-width="1.2"/><rect x="0.5" y="4" width="9" height="8.5" rx="1.5" fill="#1f1f1f"/><rect x="4" y="7.3" width="2" height="2" fill="#fff"/></svg></div>
      </div>
      <div id="minimap"><div id="mmv"></div>
<div style="position:absolute;left:49.0px;top:29.0px;width:13px;height:6.8px;background:#7600cc"></div>
<div style="position:absolute;left:71.0px;top:29.0px;width:12px;height:6.8px;background:#7600cc"></div>
<div style="position:absolute;left:92.0px;top:29.0px;width:13px;height:6.8px;background:#5986fa"></div>
<div style="position:absolute;left:113.0px;top:29.0px;width:13px;height:6.8px;background:#ef854b"></div>
<div style="position:absolute;left:135.0px;top:29.0px;width:13px;height:8.2px;background:#ef854b"></div>
<div style="position:absolute;left:156.0px;top:29.0px;width:13px;height:8.2px;background:#ef854b"></div>
<div style="position:absolute;left:49.0px;top:50.6px;width:13px;height:8.2px;background:#ef854b"></div>
<div style="position:absolute;left:71.0px;top:50.6px;width:12px;height:6.8px;background:#7600cc"></div>
<div style="position:absolute;left:92.0px;top:50.6px;width:13px;height:8.2px;background:#ef854b"></div>
<div style="position:absolute;left:113.0px;top:50.6px;width:13px;height:6.8px;background:#7600cc"></div>
<div style="position:absolute;left:135.0px;top:50.6px;width:13px;height:8.2px;background:#7600cc"></div>
<div style="position:absolute;left:156.0px;top:50.6px;width:13px;height:6.8px;background:#7600cc"></div>
<div style="position:absolute;left:49.0px;top:72.2px;width:13px;height:6.8px;background:#7600cc"></div>
<div style="position:absolute;left:71.0px;top:72.2px;width:12px;height:6.8px;background:#7600cc"></div>
<div style="position:absolute;left:92.0px;top:72.2px;width:13px;height:8.2px;background:#5986fa"></div>
<div style="position:absolute;left:113.0px;top:72.2px;width:13px;height:8.2px;background:#5986fa"></div>
<div style="position:absolute;left:135.0px;top:72.2px;width:13px;height:8.2px;background:#5986fa"></div>
<div style="position:absolute;left:156.0px;top:72.2px;width:13px;height:6.8px;background:#5986fa"></div>
<div style="position:absolute;left:49.0px;top:93.8px;width:13px;height:6.8px;background:#5986fa"></div>
<div style="position:absolute;left:71.0px;top:93.8px;width:12px;height:8.2px;background:#ef854b"></div>
<div style="position:absolute;left:92.0px;top:93.8px;width:13px;height:6.8px;background:#ef854b"></div>
<div style="position:absolute;left:113.0px;top:93.8px;width:13px;height:8.2px;background:#ef854b"></div>
<div style="position:absolute;left:135.0px;top:93.8px;width:13px;height:6.8px;background:#5986fa"></div>
<div style="position:absolute;left:156.0px;top:93.8px;width:13px;height:8.2px;background:#5986fa"></div>
<div style="position:absolute;left:49.0px;top:115.4px;width:13px;height:8.2px;background:#ef854b"></div>
<div style="position:absolute;left:71.0px;top:115.4px;width:12px;height:6.8px;background:#5986fa"></div>
      </div>
      <div id="attr">React Flow</div>
    </div>
  </div>
  <div id="wml">
<div class="wm" style="left:-17.0px;top:5.5px">cosky</div>
<div class="wm" style="left:279.0px;top:5.5px">cosky</div>
<div class="wm" style="left:575.0px;top:5.5px">cosky</div>
<div class="wm" style="left:871.0px;top:5.5px">cosky</div>
<div class="wm" style="left:1167.0px;top:5.5px">cosky</div>
<div class="wm" style="left:131.0px;top:73.5px">cosky</div>
<div class="wm" style="left:427.0px;top:73.5px">cosky</div>
<div class="wm" style="left:723.0px;top:73.5px">cosky</div>
<div class="wm" style="left:1019.0px;top:73.5px">cosky</div>
<div class="wm" style="left:1315.0px;top:73.5px">cosky</div>
<div class="wm" style="left:-17.0px;top:141.5px">cosky</div>
<div class="wm" style="left:279.0px;top:141.5px">cosky</div>
<div class="wm" style="left:575.0px;top:141.5px">cosky</div>
<div class="wm" style="left:871.0px;top:141.5px">cosky</div>
<div class="wm" style="left:1167.0px;top:141.5px">cosky</div>
<div class="wm" style="left:131.0px;top:209.5px">cosky</div>
<div class="wm" style="left:427.0px;top:209.5px">cosky</div>
<div class="wm" style="left:723.0px;top:209.5px">cosky</div>
<div class="wm" style="left:1019.0px;top:209.5px">cosky</div>
<div class="wm" style="left:1315.0px;top:209.5px">cosky</div>
<div class="wm" style="left:-17.0px;top:277.5px">cosky</div>
<div class="wm" style="left:279.0px;top:277.5px">cosky</div>
<div class="wm" style="left:575.0px;top:277.5px">cosky</div>
<div class="wm" style="left:871.0px;top:277.5px">cosky</div>
<div class="wm" style="left:1167.0px;top:277.5px">cosky</div>
<div class="wm" style="left:131.0px;top:345.5px">cosky</div>
<div class="wm" style="left:427.0px;top:345.5px">cosky</div>
<div class="wm" style="left:723.0px;top:345.5px">cosky</div>
<div class="wm" style="left:1019.0px;top:345.5px">cosky</div>
<div class="wm" style="left:1315.0px;top:345.5px">cosky</div>
<div class="wm" style="left:-17.0px;top:413.5px">cosky</div>
<div class="wm" style="left:279.0px;top:413.5px">cosky</div>
<div class="wm" style="left:575.0px;top:413.5px">cosky</div>
<div class="wm" style="left:871.0px;top:413.5px">cosky</div>
<div class="wm" style="left:1167.0px;top:413.5px">cosky</div>
<div class="wm" style="left:131.0px;top:481.5px">cosky</div>
<div class="wm" style="left:427.0px;top:481.5px">cosky</div>
<div class="wm" style="left:723.0px;top:481.5px">cosky</div>
<div class="wm" style="left:1019.0px;top:481.5px">cosky</div>
<div class="wm" style="left:1315.0px;top:481.5px">cosky</div>
<div class="wm" style="left:-17.0px;top:549.5px">cosky</div>
<div class="wm" style="left:279.0px;top:549.5px">cosky</div>
<div class="wm" style="left:575.0px;top:549.5px">cosky</div>
<div class="wm" style="left:871.0px;top:549.5px">cosky</div>
<div class="wm" style="left:1167.0px;top:549.5px">cosky</div>
<div class="wm" style="left:131.0px;top:617.5px">cosky</div>
<div class="wm" style="left:427.0px;top:617.5px">cosky</div>
<div class="wm" style="left:723.0px;top:617.5px">cosky</div>
<div class="wm" style="left:1019.0px;top:617.5px">cosky</div>
<div class="wm" style="left:1315.0px;top:617.5px">cosky</div>
<div class="wm" style="left:-17.0px;top:685.5px">cosky</div>
<div class="wm" style="left:279.0px;top:685.5px">cosky</div>
<div class="wm" style="left:575.0px;top:685.5px">cosky</div>
<div class="wm" style="left:871.0px;top:685.5px">cosky</div>
<div class="wm" style="left:1167.0px;top:685.5px">cosky</div>
<div class="wm" style="left:131.0px;top:753.5px">cosky</div>
<div class="wm" style="left:427.0px;top:753.5px">cosky</div>
<div class="wm" style="left:723.0px;top:753.5px">cosky</div>
<div class="wm" style="left:1019.0px;top:753.5px">cosky</div>
<div class="wm" style="left:1315.0px;top:753.5px">cosky</div>
<div class="wm" style="left:-17.0px;top:821.5px">cosky</div>
<div class="wm" style="left:279.0px;top:821.5px">cosky</div>
<div class="wm" style="left:575.0px;top:821.5px">cosky</div>
<div class="wm" style="left:871.0px;top:821.5px">cosky</div>
<div class="wm" style="left:1167.0px;top:821.5px">cosky</div>
<div class="wm" style="left:131.0px;top:889.5px">cosky</div>
<div class="wm" style="left:427.0px;top:889.5px">cosky</div>
<div class="wm" style="left:723.0px;top:889.5px">cosky</div>
<div class="wm" style="left:1019.0px;top:889.5px">cosky</div>
<div class="wm" style="left:1315.0px;top:889.5px">cosky</div>
<div class="wm" style="left:-17.0px;top:957.5px">cosky</div>
<div class="wm" style="left:279.0px;top:957.5px">cosky</div>
<div class="wm" style="left:575.0px;top:957.5px">cosky</div>
<div class="wm" style="left:871.0px;top:957.5px">cosky</div>
<div class="wm" style="left:1167.0px;top:957.5px">cosky</div>
<div class="wm" style="left:131.0px;top:1025.5px">cosky</div>
<div class="wm" style="left:427.0px;top:1025.5px">cosky</div>
<div class="wm" style="left:723.0px;top:1025.5px">cosky</div>
<div class="wm" style="left:1019.0px;top:1025.5px">cosky</div>
<div class="wm" style="left:1315.0px;top:1025.5px">cosky</div>
<div class="wm" style="left:-17.0px;top:1093.5px">cosky</div>
<div class="wm" style="left:279.0px;top:1093.5px">cosky</div>
<div class="wm" style="left:575.0px;top:1093.5px">cosky</div>
<div class="wm" style="left:871.0px;top:1093.5px">cosky</div>
<div class="wm" style="left:1167.0px;top:1093.5px">cosky</div>
<div class="wm" style="left:131.0px;top:1161.5px">cosky</div>
<div class="wm" style="left:427.0px;top:1161.5px">cosky</div>
<div class="wm" style="left:723.0px;top:1161.5px">cosky</div>
<div class="wm" style="left:1019.0px;top:1161.5px">cosky</div>
<div class="wm" style="left:1315.0px;top:1161.5px">cosky</div>
  </div>
</div>
</body></html>
